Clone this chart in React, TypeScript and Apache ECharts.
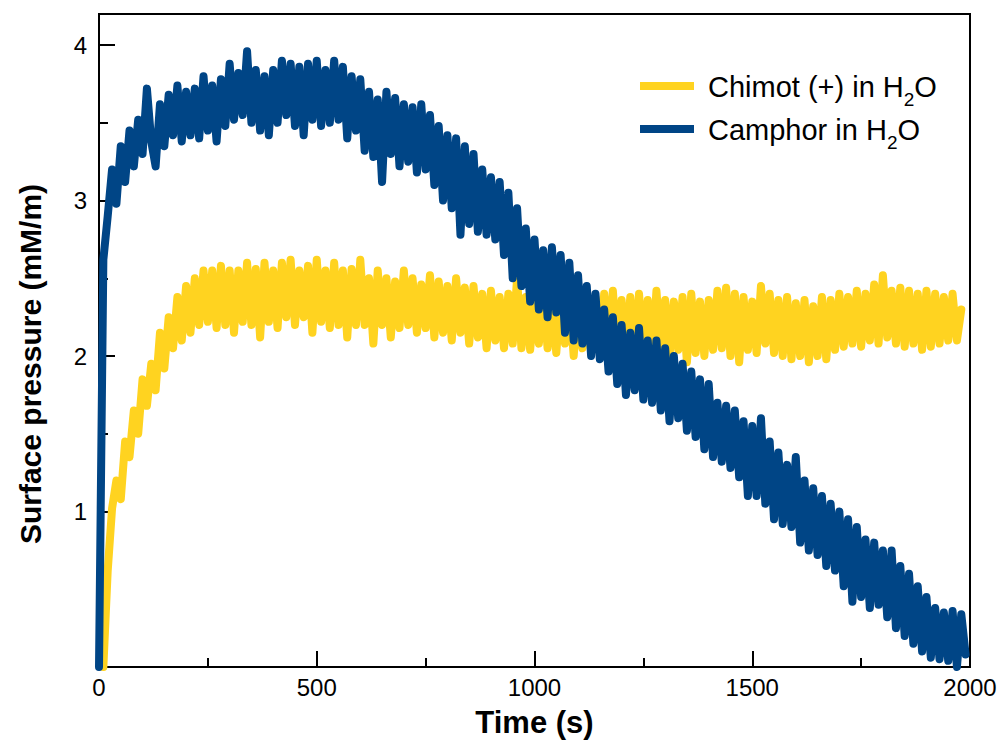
import React, { useEffect, useRef } from "react";
import * as echarts from "echarts";

// Sampling of the traces (seconds)
const STEP = 10;
const CAMPHOR_START = 0;
const CHIMOT_START = 10;

// Camphor in H2O, surface pressure (mM/m), t = 0 .. 1990 s
const camphor = [
  0, 2.62, 2.9, 3.2, 2.98, 3.35, 3.12, 3.45, 3.22, 3.52,
  3.3, 3.72, 3.38, 3.22, 3.62, 3.35, 3.68, 3.42, 3.74, 3.38,
  3.7, 3.42, 3.72, 3.4, 3.8, 3.45, 3.74, 3.38, 3.78, 3.48,
  3.88, 3.52, 3.82, 3.55, 3.96, 3.5, 3.84, 3.45, 3.8, 3.42,
  3.84, 3.5, 3.9, 3.55, 3.88, 3.48, 3.86, 3.42, 3.88, 3.52,
  3.9, 3.48, 3.84, 3.5, 3.9, 3.52, 3.86, 3.4, 3.8, 3.45,
  3.78, 3.32, 3.7, 3.28, 3.65, 3.12, 3.7, 3.3, 3.66, 3.22,
  3.62, 3.25, 3.6, 3.18, 3.62, 3.2, 3.55, 3.1, 3.48, 3.0,
  3.42, 2.95, 3.4, 2.78, 3.35, 2.85, 3.3, 2.8, 3.2, 2.78,
  3.15, 2.75, 3.12, 2.65, 3.05, 2.5, 2.95, 2.45, 2.82, 2.35,
  2.75, 2.3, 2.68, 2.25, 2.7, 2.28, 2.65, 2.15, 2.6, 2.1,
  2.52, 2.08, 2.45, 2.0, 2.4, 1.98, 2.3, 1.9, 2.25, 1.82,
  2.2, 1.75, 2.15, 1.78, 2.18, 1.72, 2.1, 1.7, 2.1, 1.65,
  2.05, 1.58, 2.0, 1.6, 1.95, 1.52, 1.9, 1.48, 1.85, 1.4,
  1.82, 1.35, 1.7, 1.32, 1.68, 1.28, 1.65, 1.22, 1.58, 1.1,
  1.55, 1.1, 1.6, 1.05, 1.45, 0.95, 1.38, 0.92, 1.3, 0.9,
  1.35, 0.8, 1.2, 0.75, 1.15, 0.72, 1.1, 0.65, 1.05, 0.62,
  1.0, 0.52, 0.95, 0.42, 0.9, 0.45, 0.82, 0.38, 0.8, 0.4,
  0.75, 0.32, 0.75, 0.25, 0.65, 0.2, 0.6, 0.15, 0.52, 0.1,
  0.45, 0.06, 0.38, 0.05, 0.35, 0.04, 0.36, 0.0, 0.34, 0.08,
];

// Chimot (+) in H2O, surface pressure (mM/m), t = 10 .. 1980 s
const chimot = [
  0, 0.62, 1.02, 1.2, 1.08, 1.45, 1.35, 1.65, 1.5, 1.85,
  1.68, 1.95, 1.78, 2.15, 1.92, 2.25, 2.05, 2.38, 2.1, 2.45,
  2.15, 2.5, 2.2, 2.55, 2.22, 2.55, 2.18, 2.58, 2.2, 2.55,
  2.15, 2.55, 2.22, 2.6, 2.2, 2.56, 2.12, 2.6, 2.22, 2.55,
  2.18, 2.6, 2.25, 2.62, 2.2, 2.55, 2.25, 2.58, 2.15, 2.62,
  2.22, 2.55, 2.18, 2.6, 2.2, 2.55, 2.12, 2.56, 2.2, 2.62,
  2.2, 2.5, 2.08, 2.55, 2.2, 2.5, 2.12, 2.48, 2.18, 2.55,
  2.2, 2.5, 2.15, 2.46, 2.18, 2.52, 2.12, 2.48, 2.15, 2.45,
  2.1, 2.5, 2.15, 2.44, 2.08, 2.45, 2.12, 2.4, 2.05, 2.42,
  2.1, 2.38, 2.05, 2.4, 2.08, 2.5, 2.05, 2.38, 2.04, 2.36,
  2.08, 2.42, 2.05, 2.36, 2.02, 2.38, 2.08, 2.4, 2.0, 2.36,
  2.05, 2.4, 2.04, 2.38, 2.02, 2.4, 2.05, 2.42, 2.0, 2.36,
  2.02, 2.38, 2.0, 2.4, 2.04, 2.36, 1.98, 2.42, 2.05, 2.36,
  2.0, 2.35, 2.04, 2.38, 1.96, 2.4, 2.02, 2.35, 2.0, 2.36,
  2.04, 2.42, 2.05, 2.44, 2.0, 2.4, 1.96, 2.38, 2.04, 2.35,
  2.02, 2.45, 2.08, 2.4, 2.02, 2.36, 2.0, 2.38, 1.98, 2.34,
  2.0, 2.36, 1.96, 2.32, 2.0, 2.38, 1.98, 2.36, 2.04, 2.4,
  2.06, 2.38, 2.08, 2.42, 2.06, 2.4, 2.1, 2.46, 2.08, 2.52,
  2.12, 2.42, 2.08, 2.44, 2.06, 2.42, 2.08, 2.4, 2.04, 2.42,
  2.06, 2.4, 2.08, 2.38, 2.1, 2.4, 2.1, 2.3,
];

const seriesNames = ["Chimot (+) in H2O", "Camphor in H2O"];
const legendRich = ["{n|Chimot (+) in H}{s|2}{n|O}", "{n|Camphor in H}{s|2}{n|O}"];
const colors = ["#ffd320", "#004586"];

const X_MIN = 0;
const X_MAX = 2000;
const X_INTERVAL = 500;
const Y_MIN = 0;
const Y_MAX = 4.2;
const Y_INTERVAL = 1;

const FONT = "'Liberation Sans', Arial, Helvetica, sans-serif";

export default function App() {
  const ref = useRef<HTMLDivElement>(null);

  useEffect(() => {
    if (!ref.current) return;
    const chart = echarts.init(ref.current, undefined, { renderer: "svg" });

    const camphorData = camphor.map((v, i) => [CAMPHOR_START + i * STEP, v]);
    const chimotData = chimot.map((v, i) => [CHIMOT_START + i * STEP, v]);

    const tickStyle = { color: "#000", width: 2 };

    const legendItems: any[] = [];
    [0, 1].forEach((i) => {
      const cy = 86 + i * 43;
      legendItems.push({
        type: "rect",
        shape: { x: 640, y: cy - 4, width: 54, height: 8 },
        style: { fill: colors[i] },
        silent: true,
      });
      legendItems.push({
        type: "text",
        x: 708,
        y: cy + 1,
        style: {
          text: legendRich[i],
          fill: "#000",
          align: "left",
          verticalAlign: "middle",
          rich: {
            n: { fontSize: 29, fontFamily: FONT, fill: "#000", color: "#000" },
            s: { fontSize: 19, fontFamily: FONT, fill: "#000", color: "#000", padding: [24, 0, 0, 0] },
          },
        },
        silent: true,
      });
    });

    chart.setOption({
      animation: false,
      backgroundColor: "#fff",
      grid: {
        left: 99,
        right: 36,
        top: 14,
        bottom: 80,
        show: true,
        borderColor: "#000",
        borderWidth: 2,
        backgroundColor: "transparent",
      },
      xAxis: {
        type: "value",
        min: X_MIN,
        max: X_MAX,
        interval: X_INTERVAL,
        axisLine: { show: false },
        axisTick: { show: true, inside: true, length: 16, lineStyle: tickStyle },
        minorTick: { show: true, splitNumber: 2, length: 9, lineStyle: tickStyle },
        splitLine: { show: false },
        axisLabel: {
          color: "#000",
          fontSize: 24,
          fontFamily: FONT,
          margin: 8,
          formatter: (v: number) => String(v),
        },
        name: "Time (s)",
        nameLocation: "middle",
        nameGap: 40,
        nameTextStyle: { color: "#000", fontSize: 31, fontWeight: "bold", fontFamily: FONT },
      },
      yAxis: [
        {
          type: "value",
          position: "left",
          min: Y_MIN,
          max: Y_MAX,
          interval: Y_INTERVAL,
          axisLine: { show: false },
          axisTick: { show: true, inside: true, length: 16, lineStyle: tickStyle },
          splitLine: { show: false },
          axisLabel: {
            color: "#000",
            fontSize: 24,
            fontFamily: FONT,
            margin: 12,
            showMaxLabel: false,
            formatter: (v: number) => (v === 0 ? "" : String(v)),
          },
        },
        {
          type: "value",
          position: "left",
          min: Y_MIN,
          max: Y_MAX,
          interval: Y_INTERVAL / 2,
          axisLine: { show: false },
          axisTick: { show: true, inside: true, length: 9, lineStyle: tickStyle },
          splitLine: { show: false },
          axisLabel: { show: false },
        },
      ],
      graphic: [
        {
          type: "text",
          x: 30,
          y: 364,
          rotation: Math.PI / 2,
          style: {
            text: "Surface pressure (mM/m)",
            fill: "#000",
            font: `bold 30px ${FONT}`,
            align: "center",
            verticalAlign: "middle",
          },
          silent: true,
        },
        ...legendItems,
      ],
      series: [
        {
          name: seriesNames[0],
          type: "line",
          data: chimotData,
          showSymbol: false,
          symbol: "none",
          lineStyle: { color: colors[0], width: 8, cap: "round", join: "round" },
          itemStyle: { color: colors[0] },
          z: 2,
        },
        {
          name: seriesNames[1],
          type: "line",
          data: camphorData,
          showSymbol: false,
          symbol: "none",
          lineStyle: { color: colors[1], width: 8, cap: "round", join: "round" },
          itemStyle: { color: colors[1] },
          z: 3,
        },
      ],
    });

    return () => chart.dispose();
  }, []);

  return (
    <div
      ref={ref}
      style={{ position: "absolute", left: 0, top: 0, width: 1006, height: 747 }}
    />
  );
}
